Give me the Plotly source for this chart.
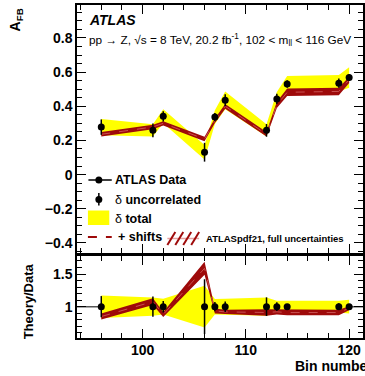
import plotly.graph_objects as go

# ---------------- data ----------------
bin_x = [96, 101, 102, 106, 107, 108, 112, 113, 114, 119, 120]
afb = [0.278, 0.259, 0.341, 0.131, 0.337, 0.435, 0.259, 0.443, 0.530, 0.535, 0.569]
unc = [0.045, 0.040, 0.030, 0.055, 0.024, 0.035, 0.037, 0.030, 0.022, 0.027, 0.018]
tot = [0.048, 0.036, 0.041, 0.042, 0.040, 0.052, 0.036, 0.040, 0.048, 0.048, 0.060]
theory = [0.236, 0.279, 0.300, 0.208, 0.315, 0.400, 0.236, 0.408, 0.482, 0.487, 0.555]
theory_err = [0.013, 0.013, 0.013, 0.013, 0.013, 0.014, 0.013, 0.018, 0.022, 0.022, 0.018]

FONT = "Liberation Sans"
RED = "#9e0a0a"
YEL = "#ffff00"

# derived
tot_up = [a + t for a, t in zip(afb, tot)]
tot_dn = [a - t for a, t in zip(afb, tot)]
th_up = [t + e for t, e in zip(theory, theory_err)]
th_dn = [t - e for t, e in zip(theory, theory_err)]
r_tot_up = [u / a for u, a in zip(tot_up, afb)]
r_tot_dn = [d / a for d, a in zip(tot_dn, afb)]
r_th = [t / a for t, a in zip(theory, afb)]
r_th_up = [u / a for u, a in zip(th_up, afb)]
r_th_dn = [d / a for d, a in zip(th_dn, afb)]
r_unc = [u / a for u, a in zip(unc, afb)]
ones = [1.0 for _ in bin_x]

xs_poly = bin_x + bin_x[::-1]

fig = go.Figure()


def band(up, dn, color, xa, ya):
    fig.add_trace(go.Scatter(x=xs_poly, y=up + dn[::-1], fill="toself", fillcolor=color,
                             line=dict(width=0), mode="lines", hoverinfo="skip",
                             showlegend=False, xaxis=xa, yaxis=ya))


# top panel
band(tot_up, tot_dn, YEL, "x", "y")
band(th_up, th_dn, RED, "x", "y")
fig.add_trace(go.Scatter(x=bin_x, y=theory, mode="lines", line=dict(color="#c95050", width=1, dash="dash"),
                         showlegend=False, xaxis="x", yaxis="y"))
fig.add_trace(go.Scatter(x=bin_x, y=afb, mode="markers",
                         marker=dict(color="black", size=7),
                         error_y=dict(type="data", array=unc, color="black", thickness=1.5, width=0),
                         showlegend=False, xaxis="x", yaxis="y"))

# ratio panel
band(r_tot_up, r_tot_dn, YEL, "x2", "y2")
band(r_th_up, r_th_dn, RED, "x2", "y2")
fig.add_trace(go.Scatter(x=bin_x, y=r_th, mode="lines", line=dict(color="#c95050", width=1, dash="dash"),
                         showlegend=False, xaxis="x2", yaxis="y2"))
fig.add_trace(go.Scatter(x=bin_x, y=ones, mode="markers",
                         marker=dict(color="black", size=7),
                         error_y=dict(type="data", array=r_unc, color="black", thickness=1.5, width=0),
                         showlegend=False, xaxis="x2", yaxis="y2"))

# ---------------- layout ----------------
W, H = 365, 376
L, R, T, B = 77, 0, 5, 38
PW, PH = W - L - R, H - T - B


def px(x):
    return (x - L) / PW


def py(y):
    return (H - B - y) / PH


tickfont = dict(family=FONT, size=14, color="black", weight="bold")
common_x = dict(range=[93.65, 93.65 + PW / 10.4], dtick=10, tick0=100, ticks="inside", ticklen=9,
                tickcolor="black", tickwidth=1, showline=True, linecolor="black", linewidth=1.5,
                mirror="allticks", showgrid=False, zeroline=False,
                minor=dict(dtick=2, ticks="inside", ticklen=5, tickcolor="black", tickwidth=1))
common_y = dict(ticks="inside", ticklen=9, tickcolor="black", tickwidth=1, showline=True,
                linecolor="black", linewidth=1.5, mirror="allticks", showgrid=False, zeroline=False,
                tickfont=tickfont)

fig.update_layout(
    width=W, height=H, margin=dict(l=L, r=R, t=T, b=B),
    paper_bgcolor="white", plot_bgcolor="white", showlegend=False,
    font=dict(family=FONT, color="black"),
    xaxis=dict(anchor="y", showticklabels=False, **common_x),
    yaxis=dict(domain=[py(253), 1.0], range=[-0.459, 0.993], dtick=0.2,
               minor=dict(dtick=0.05, ticks="inside", ticklen=5, tickcolor="black", tickwidth=1),
               **common_y),
    xaxis2=dict(anchor="y2", matches="x", tickfont=tickfont, ticklabelstandoff=-2, **common_x),
    yaxis2=dict(domain=[0.0, py(256)], range=[0.52, 1.776], dtick=0.5, tick0=0,
                minor=dict(dtick=0.1, ticks="inside", ticklen=5, tickcolor="black", tickwidth=1),
                **common_y),
)

shapes = []
# reference line at 1 in ratio panel
shapes.append(dict(type="line", xref="x2 domain", yref="y2", x0=0, x1=1, y0=1, y1=1,
                   line=dict(color="#555555", width=1.5), layer="below"))

# legend symbols
shapes.append(dict(type="line", xref="paper", yref="paper", x0=px(88.5), x1=px(112), y0=py(180), y1=py(180),
                   line=dict(color="black", width=1.5)))
shapes.append(dict(type="line", xref="paper", yref="paper", x0=px(99), x1=px(99), y0=py(193), y1=py(205.5),
                   line=dict(color="black", width=1.5)))
for cy in (180, 199.5):
    shapes.append(dict(type="circle", xref="paper", yref="paper", x0=px(95.5), x1=px(102.5),
                       y0=py(cy + 3.5), y1=py(cy - 3.5), fillcolor="black", line=dict(width=0)))
shapes.append(dict(type="rect", xref="paper", yref="paper", x0=px(88), x1=px(109.5), y0=py(225), y1=py(210.5),
                   fillcolor=YEL, line=dict(width=0)))
shapes.append(dict(type="line", xref="paper", yref="paper", x0=px(88), x1=px(112), y0=py(237), y1=py(237),
                   line=dict(color=RED, width=2, dash="dash")))
# hatched symbol
shapes.append(dict(type="line", xref="paper", yref="paper", x0=px(168), x1=px(200), y0=py(238.5), y1=py(238.5),
                   line=dict(color="#e8a0a0", width=1.5)))
for k in range(4):
    x0 = 168 + k * 8
    shapes.append(dict(type="line", xref="paper", yref="paper", x0=px(x0), x1=px(x0 + 8), y0=py(245), y1=py(232),
                       line=dict(color=RED, width=2)))
fig.update_layout(shapes=shapes)

ann = []


def text(x, y, s, size, anchor="left", weight="normal", angle=0, yanchor="middle"):
    ann.append(dict(xref="paper", yref="paper", x=px(x), y=py(y), text=s, showarrow=False,
                    xanchor=anchor, yanchor=yanchor, textangle=angle,
                    font=dict(family=FONT, size=size, color="black", weight=weight)))


text(87, 20, "<i>ATLAS</i>", 14, weight="bold")
text(87, 40, "pp → Z, √s = 8 TeV, 20.2 fb<sup>-1</sup>, 102 < m<sub>ll</sub> < 116 GeV", 11.8)
text(113, 180, "ATLAS Data", 12.5, weight="bold")
text(113, 199.5, "δ <b>uncorrelated</b>", 12.5)
text(113, 218.5, "δ <b>total</b>", 12.5)
text(116, 237, "+ shifts", 12.5, weight="bold")
text(205, 238.5, "ATLASpdf21, full uncertainties", 9.5, weight="bold")
text(16, 20, "A<sub>FB</sub>", 14, anchor="center", weight="bold", angle=-90)
text(28, 301, "Theory/Data", 13, anchor="center", weight="bold", angle=-90)
text(295, 366, "Bin number", 14, anchor="left", weight="bold")
fig.update_layout(annotations=ann)

fig.write_html("out.html", config={"displayModeBar": False},
               post_script="document.body.style.margin='0px';document.body.style.overflow='hidden';")
